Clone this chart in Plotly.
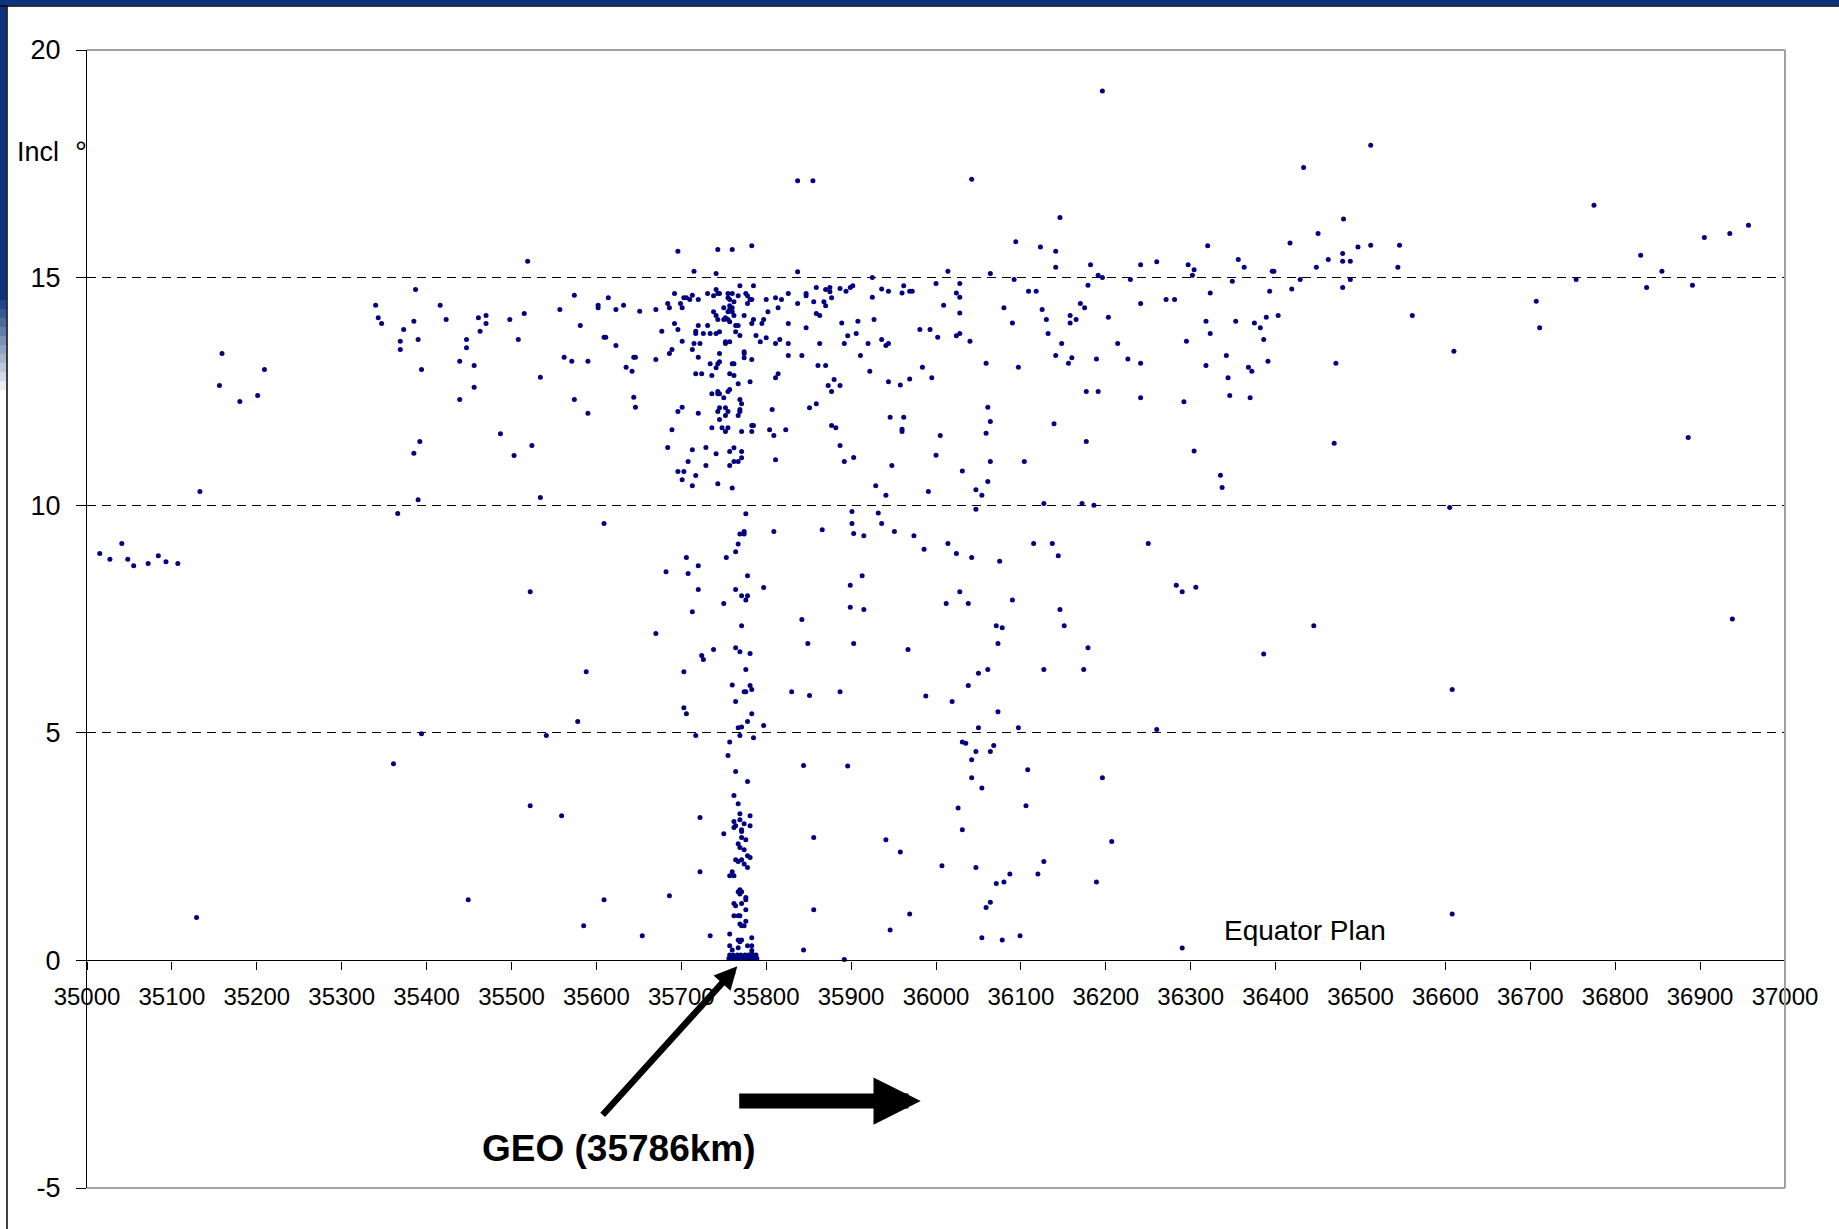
import plotly.graph_objects as go

# Apogee/Perigee (km) and inclination (deg), by region
west = [(35696, 15.58), (35519, 15.36), (35715, 15.14), (35387, 14.74), (35340, 14.39), (35416, 14.39),
        (35574, 14.61), (35614, 14.56), (35602, 14.39), (35602, 14.34), (35632, 14.39), (35623, 14.30),
        (35557, 14.30), (35515, 14.21), (35651, 14.26), (35670, 14.30), (35692, 14.65), (35684, 14.43),
        (35686, 14.34), (35699, 14.43), (35701, 14.34), (35703, 14.56), (35706, 14.56), (35710, 14.52),
        (35713, 14.61), (35720, 14.52), (35343, 14.12), (35347, 13.99), (35423, 14.08), (35461, 14.12),
        (35470, 14.17), (35470, 13.99), (35498, 14.08), (35385, 14.04), (35373, 13.86), (35463, 13.82),
        (35369, 13.60), (35369, 13.42), (35390, 13.64), (35447, 13.64), (35447, 13.46), (35508, 13.64),
        (35581, 13.95), (35609, 13.69), (35611, 13.69), (35623, 13.51), (35692, 13.99), (35696, 13.86),
        (35677, 13.82), (35717, 13.82), (35717, 13.77), (35720, 13.95), (35726, 13.77), (35715, 13.55),
        (35722, 13.55), (35701, 13.60), (35689, 13.42), (35686, 13.33), (35713, 13.42), (35720, 13.25),
        (35562, 13.25), (35571, 13.16), (35590, 13.16), (35644, 13.25), (35646, 13.25), (35670, 13.20),
        (35439, 13.16), (35456, 13.07), (35394, 12.98), (35635, 13.03), (35642, 12.94), (35717, 12.89),
        (35724, 12.89), (35534, 12.81), (35456, 12.59), (35439, 12.32), (35574, 12.32), (35644, 12.37),
        (35646, 12.15), (35590, 12.02), (35696, 12.06), (35701, 12.15), (35720, 12.02), (35689, 11.66),
        (35487, 11.57), (35503, 11.09), (35524, 11.31), (35392, 11.40), (35385, 11.14), (35684, 11.27),
        (35713, 11.22), (35729, 11.27), (35708, 10.96), (35729, 10.87), (35696, 10.74), (35703, 10.74),
        (35701, 10.56), (35717, 10.65), (35713, 10.43), (35390, 10.12), (35534, 10.17), (35159, 13.33),
        (35156, 12.63), (35180, 12.28), (35201, 12.41), (35209, 12.98), (35133, 10.30)]

west_low = [(35015, 8.94), (35027, 8.81), (35041, 9.16), (35048, 8.81), (35055, 8.67), (35072, 8.72),
            (35084, 8.89), (35093, 8.76), (35107, 8.72), (35366, 9.82), (35609, 9.60), (35522, 8.10),
            (35706, 8.85), (35720, 8.67), (35682, 8.54), (35708, 8.50), (35720, 8.15), (35713, 7.66),
            (35670, 7.18), (35724, 6.70), (35726, 6.61), (35588, 6.34), (35703, 6.34), (35703, 5.55),
            (35706, 5.42), (35578, 5.25), (35394, 4.98), (35541, 4.94), (35717, 4.94), (35361, 4.32),
            (35522, 3.40), (35559, 3.18), (35722, 3.14), (35722, 1.95), (35686, 1.42), (35609, 1.33),
            (35449, 1.33), (35129, 0.94), (35585, 0.76), (35654, 0.54)]

geo_high = [(35743, 15.62), (35760, 15.62), (35783, 15.70), (35741, 15.09), (35837, 15.13), (35769, 14.82),
            (35785, 14.82), (35731, 14.65), (35741, 14.74), (35743, 14.65), (35745, 14.65), (35755, 14.65),
            (35760, 14.65), (35738, 14.60), (35776, 14.65), (35778, 14.60), (35755, 14.56), (35757, 14.52),
            (35762, 14.47), (35781, 14.52), (35783, 14.52), (35767, 14.60), (35800, 14.52), (35811, 14.56),
            (35818, 14.52), (35826, 14.65), (35847, 14.65), (35847, 14.60), (35859, 14.78), (35870, 14.74),
            (35875, 14.78), (35875, 14.69), (35877, 14.56), (35837, 14.43), (35856, 14.47), (35868, 14.47),
            (35870, 14.38), (35757, 14.38), (35778, 14.43), (35750, 14.34), (35760, 14.34), (35738, 14.25),
            (35741, 14.17), (35755, 14.25), (35757, 14.30), (35760, 14.25), (35743, 14.08), (35750, 14.08),
            (35752, 14.12), (35755, 14.08), (35757, 14.03), (35762, 14.17), (35774, 14.17), (35785, 14.08),
            (35797, 14.08), (35802, 14.25), (35814, 14.34), (35859, 14.21), (35863, 14.17), (35783, 13.99),
            (35795, 13.99), (35826, 13.99), (35847, 13.90), (35764, 13.95), (35767, 13.95), (35731, 13.95),
            (35734, 13.77), (35741, 13.77), (35745, 13.81), (35764, 13.81), (35769, 13.73), (35788, 13.73),
            (35800, 13.68), (35816, 13.64), (35793, 13.59), (35811, 13.55), (35826, 13.55), (35863, 13.55),
            (35752, 13.59), (35752, 13.55), (35757, 13.59), (35745, 13.33), (35774, 13.37), (35774, 13.33),
            (35774, 13.24), (35783, 13.20), (35826, 13.29), (35842, 13.29), (35734, 13.11), (35743, 13.11),
            (35745, 13.15), (35741, 13.02), (35760, 13.11), (35762, 13.11), (35861, 13.07), (35870, 13.07),
            (35736, 12.85), (35757, 12.89), (35762, 12.85), (35767, 12.67), (35781, 12.71), (35811, 12.80),
            (35814, 12.89), (35859, 12.23), (35851, 12.14), (35873, 12.63), (35880, 12.76), (35877, 12.50),
            (35736, 12.45), (35743, 12.50), (35743, 12.45), (35745, 12.45), (35755, 12.50), (35757, 12.54),
            (35750, 12.36), (35769, 12.32), (35771, 12.23), (35745, 12.14), (35743, 12.06), (35752, 12.14),
            (35755, 12.06), (35752, 11.97), (35745, 11.88), (35767, 11.97), (35769, 12.10), (35769, 12.06),
            (35807, 12.10), (35736, 11.70), (35748, 11.70), (35755, 11.70), (35752, 11.62), (35771, 11.62),
            (35783, 11.75), (35785, 11.75), (35783, 11.62), (35804, 11.66), (35809, 11.53), (35823, 11.66),
            (35877, 11.75), (35882, 11.70), (35741, 11.13), (35757, 11.18), (35762, 11.26), (35771, 11.18),
            (35771, 11.04), (35767, 10.96), (35762, 10.96), (35757, 10.87), (35811, 11.00), (35743, 10.47),
            (35760, 10.38), (35776, 9.81), (35769, 9.37), (35774, 9.42), (35774, 9.37), (35767, 9.15),
            (35809, 9.42), (35866, 9.46), (35837, 17.13), (35855, 17.13)]

geo_low = [(35753, 8.85), (35764, 8.98), (35778, 8.45), (35797, 8.19), (35764, 8.15), (35771, 8.01),
           (35778, 8.01), (35776, 7.92), (35750, 7.84), (35842, 7.49), (35771, 7.35), (35849, 6.96),
           (35738, 6.83), (35764, 6.87), (35769, 6.78), (35781, 6.74), (35776, 6.39), (35760, 6.05),
           (35781, 6.04), (35774, 5.90), (35776, 5.90), (35783, 5.95), (35830, 5.90), (35851, 5.82),
           (35764, 5.69), (35783, 5.42), (35778, 5.25), (35767, 5.11), (35771, 5.13), (35797, 5.16),
           (35769, 4.94), (35785, 4.89), (35757, 4.80), (35755, 4.50), (35844, 4.28), (35764, 4.15),
           (35778, 3.93), (35762, 3.62), (35767, 3.44), (35769, 3.22), (35781, 3.18), (35762, 3.05),
           (35769, 3.09), (35762, 2.92), (35764, 2.96), (35774, 3.00), (35781, 2.96), (35771, 2.87),
           (35771, 2.83), (35750, 2.78), (35776, 2.65), (35771, 2.70), (35856, 2.70), (35767, 2.56),
           (35769, 2.48), (35774, 2.43), (35764, 2.21), (35767, 2.17), (35771, 2.21), (35774, 2.12),
           (35778, 2.30), (35781, 2.26), (35778, 2.04), (35757, 1.86), (35760, 1.95), (35762, 1.86),
           (35769, 1.55), (35767, 1.51), (35771, 1.51), (35769, 1.46), (35776, 1.38), (35776, 1.33),
           (35771, 1.25), (35762, 1.25), (35764, 1.20), (35776, 1.11), (35762, 0.98), (35767, 0.98),
           (35769, 0.98), (35776, 0.86), (35769, 0.80), (35771, 0.76), (35774, 0.76), (35856, 1.11),
           (35734, 0.54), (35757, 0.58), (35767, 0.45), (35769, 0.41), (35771, 0.45), (35783, 0.50),
           (35757, 0.32), (35767, 0.28), (35760, 0.23), (35778, 0.32), (35783, 0.32), (35783, 0.22),
           (35783, 0.15), (35844, 0.23)]

# the packed GEO band sitting on the equator plane
geo_band = [(35756, 0.04), (35759, 0.04), (35762, 0.04), (35765, 0.04), (35768, 0.04), (35771, 0.04),
            (35774, 0.04), (35777, 0.04), (35780, 0.04), (35783, 0.04), (35786, 0.04), (35789, 0.04),
            (35757, 0.12), (35761, 0.12), (35766, 0.12), (35770, 0.12), (35775, 0.12), (35779, 0.12),
            (35784, 0.12), (35788, 0.12)]

east = [(36196, 19.10), (36042, 17.16), (36433, 17.42), (36146, 16.32), (36094, 15.79), (36123, 15.67),
        (36141, 15.58), (36141, 15.23), (36320, 15.70), (36450, 15.97), (36417, 15.76), (36462, 15.40),
        (36260, 15.35), (36241, 15.28), (36182, 15.28), (36297, 15.28), (36304, 15.17), (36302, 15.05),
        (36356, 15.40), (36363, 15.23), (36396, 15.14), (36398, 15.14), (36448, 15.23), (36014, 15.14),
        (36064, 15.09), (36191, 15.05), (36196, 15.00), (36229, 14.96), (36349, 14.92), (36429, 14.96),
        (36092, 14.96), (35925, 15.00), (35887, 14.76), (35894, 14.70), (35899, 14.78), (35902, 14.82),
        (35925, 14.57), (35936, 14.75), (35944, 14.70), (35960, 14.66), (35962, 14.82), (35969, 14.70),
        (35972, 14.70), (36000, 14.87), (36024, 14.66), (36028, 14.87), (36028, 14.57), (36109, 14.70),
        (36118, 14.70), (36179, 14.83), (36271, 14.52), (36281, 14.52), (36323, 14.66), (36393, 14.70),
        (36419, 14.75), (36009, 14.39), (36028, 14.22), (36080, 14.34), (36125, 14.30), (36170, 14.43),
        (36175, 14.34), (36241, 14.43), (36158, 14.17), (36158, 14.00), (36165, 14.08), (36130, 14.08),
        (36203, 14.13), (36403, 14.17), (36389, 14.13), (36318, 14.04), (36353, 14.04), (36375, 14.00),
        (36382, 13.90), (35908, 14.04), (35927, 14.08), (35889, 14.00), (36090, 14.00), (35981, 13.86),
        (35993, 13.86), (35906, 13.77), (35896, 13.72), (36024, 13.72), (36028, 13.77), (36132, 13.77),
        (36323, 13.77), (36002, 13.69), (35892, 13.55), (35920, 13.55), (35936, 13.64), (35941, 13.51),
        (35944, 13.55), (36040, 13.60), (36148, 13.55), (36214, 13.55), (36295, 13.60), (36386, 13.64),
        (35911, 13.29), (36141, 13.29), (36160, 13.24), (36156, 13.12), (36189, 13.21), (36226, 13.21),
        (36241, 13.12), (36342, 13.29), (36391, 13.16), (36471, 13.12), (36059, 13.12), (36318, 13.07),
        (36368, 13.03), (36372, 12.94), (35922, 12.94), (35984, 13.03), (36097, 13.03), (35995, 12.80),
        (35969, 12.77), (35944, 12.71), (35958, 12.64), (35887, 12.63), (36344, 12.80), (36177, 12.50),
        (36191, 12.50), (36346, 12.41), (36370, 12.36), (36241, 12.36), (36292, 12.27), (36061, 12.15),
        (35946, 11.93), (35962, 11.93), (36064, 11.84), (36139, 11.79), (35960, 11.67), (35960, 11.62),
        (36059, 11.58), (36005, 11.53), (35887, 11.31), (36177, 11.40), (36469, 11.36), (36304, 11.19),
        (36000, 11.10), (35892, 10.96), (35903, 11.05), (36064, 10.96), (36104, 10.96), (35948, 10.87),
        (36031, 10.75), (36335, 10.66), (36337, 10.39), (35929, 10.43), (36061, 10.52), (35991, 10.30),
        (35941, 10.22), (36047, 10.34), (36054, 10.22), (36127, 10.04), (36172, 10.04), (36186, 10.00),
        (36047, 9.91), (35901, 9.86), (35932, 9.83), (35901, 9.60), (35936, 9.60), (35903, 9.38),
        (35915, 9.33), (35951, 9.42), (35974, 9.33), (35986, 9.03), (36014, 9.16), (36024, 8.94),
        (36042, 8.85), (36075, 8.77), (36115, 9.16), (36137, 9.16), (36144, 8.89), (36250, 9.16),
        (35913, 8.45), (35899, 8.24), (35899, 7.76), (35915, 7.71), (36012, 7.84), (36028, 8.10),
        (36038, 7.84), (36090, 7.92), (36146, 7.71), (36151, 7.35), (36071, 7.35), (36078, 7.31),
        (36073, 6.96), (36283, 8.24), (36290, 8.10), (36306, 8.20), (36445, 7.35), (35903, 6.96),
        (35967, 6.83), (36179, 6.87), (36386, 6.73), (36061, 6.39), (36050, 6.31), (36127, 6.39),
        (36174, 6.39), (36038, 6.04), (35887, 5.90), (35988, 5.81), (36019, 5.69), (36073, 5.46),
        (36050, 5.11), (36097, 5.11), (36260, 5.07), (36031, 4.80), (36035, 4.77), (36068, 4.72),
        (36064, 4.59), (36047, 4.59), (36042, 4.41), (35896, 4.27), (36108, 4.19), (36042, 4.01),
        (36054, 3.79), (36196, 4.01), (36106, 3.40), (36026, 3.35), (36031, 2.87), (35941, 2.65),
        (35958, 2.38), (36007, 2.08), (36047, 2.04), (36087, 1.90), (36080, 1.72), (36071, 1.69),
        (36120, 1.90), (36127, 2.17), (36189, 1.72), (36207, 2.61), (36064, 1.28), (36059, 1.16),
        (35969, 1.02), (35946, 0.67), (36054, 0.50), (36078, 0.45), (36099, 0.54), (36290, 0.27),
        (35892, 0.02)]

far_east = [(36512, 17.91), (36480, 16.29), (36479, 15.53), (36479, 15.36), (36488, 15.36), (36497, 15.67),
            (36512, 15.71), (36546, 15.71), (36544, 15.23), (36488, 14.96), (36479, 14.78), (36561, 14.17),
            (36610, 13.38), (36707, 14.48), (36711, 13.90), (36754, 14.96), (36775, 16.59), (36830, 15.49),
            (36837, 14.78), (36855, 15.14), (36886, 11.49), (36891, 14.83), (36905, 15.88), (36935, 15.97),
            (36957, 16.15), (36605, 9.95), (36608, 5.95), (36938, 7.50), (36608, 1.02)]

x_ticks = list(range(35000, 37001, 100))
y_ticks = [-5, 0, 5, 10, 15, 20]

all_pts = west + west_low + geo_high + geo_low + geo_band + east + far_east
apogee = [p[0] for p in all_pts]
incl = [p[1] for p in all_pts]

FONT = "Liberation Sans, Arial, sans-serif"
W, H = 1839, 1229
L, R, T, B = 87, 54, 50, 41


def px(x):
    return (x - L) / (W - L - R)


def py(y):
    return (H - B - y) / (H - T - B)


fig = go.Figure()
fig.add_trace(go.Scatter(x=apogee, y=incl, mode='markers',
                         marker=dict(size=5, color='#000080', line=dict(width=0)),
                         showlegend=False, hoverinfo='x+y'))

fig.update_layout(
    width=W, height=H, autosize=False,
    margin=dict(l=L, r=R, t=T, b=B),
    paper_bgcolor='white', plot_bgcolor='white',
    font=dict(family=FONT, color='black'),
    xaxis=dict(range=[35000, 37000], tickvals=x_ticks, ticktext=[str(v) for v in x_ticks],
               anchor='free', position=0.2, side='bottom',
               showline=True, linecolor='black', linewidth=1.3,
               ticks='outside', ticklen=8, tickwidth=1.3, tickcolor='black',
               ticklabelstandoff=7, tickfont=dict(size=24, family=FONT, color='black'),
               showgrid=False, zeroline=False),
    yaxis=dict(range=[-5, 20], tickvals=y_ticks, ticktext=[str(v) for v in y_ticks],
               showline=True, linecolor='black', linewidth=1.3,
               ticks='outside', ticklen=10, tickwidth=1.3, tickcolor='black',
               ticklabelstandoff=10, tickfont=dict(size=27, family=FONT, color='black'),
               showgrid=True, gridcolor='black', gridwidth=1, griddash='9px,6px',
               zeroline=False),
)

shapes = []
# grey frame on top, right and bottom
frame = dict(type='line', xref='paper', yref='paper', line=dict(color='#a0a0a0', width=2), layer='above')
shapes.append(dict(frame, x0=0, x1=1, y0=1, y1=1))
shapes.append(dict(frame, x0=1, x1=1, y0=0, y1=1))
shapes.append(dict(frame, x0=0, x1=1, y0=0, y1=0))

# slide border: dark blue band at the top and upper left
blue = '#0b347c'
shapes.append(dict(type='rect', xref='paper', yref='paper', x0=px(0), x1=px(W), y0=py(0), y1=py(5.5),
                   fillcolor=blue, line=dict(width=0)))
shapes.append(dict(type='rect', xref='paper', yref='paper', x0=px(0), x1=px(6.5), y0=py(0), y1=py(300),
                   fillcolor=blue, line=dict(width=0)))
steps = 10
for i in range(steps):
    t = (i + 1) / (steps + 1)
    c = tuple(int(a + (255 - a) * t) for a in (11, 52, 124))
    shapes.append(dict(type='rect', xref='paper', yref='paper', x0=px(0), x1=px(6.5),
                       y0=py(300 + i * 9), y1=py(300 + (i + 1) * 9),
                       fillcolor='rgb(%d,%d,%d)' % c, line=dict(width=0)))
shapes.append(dict(type='line', xref='paper', yref='paper', x0=px(0), x1=px(W), y0=py(6), y1=py(6),
                   line=dict(color='black', width=1.5)))
shapes.append(dict(type='line', xref='paper', yref='paper', x0=px(7), x1=px(7), y0=py(6), y1=py(H),
                   line=dict(color='black', width=1.5)))
fig.update_layout(shapes=shapes)

ann = []
ann.append(dict(text='Incl', xref='paper', yref='y', x=px(15), y=17.76, xanchor='left', yanchor='middle',
                showarrow=False, font=dict(size=27, family=FONT, color='black')))
ann.append(dict(text='°', xref='paper', yref='y', x=px(81), y=17.76, xanchor='center', yanchor='middle',
                showarrow=False, font=dict(size=30, family=FONT, color='black')))
ann.append(dict(text='Apogee/Perigee', xref='x', yref='y', x=37002, y=-1.6, xanchor='right',
                yanchor='middle', showarrow=False, font=dict(size=26, family=FONT, color='black')))
ann.append(dict(text='Equator Plan', xref='x', yref='y', x=36435, y=0.66, xanchor='center',
                yanchor='middle', showarrow=False, font=dict(size=28, family=FONT, color='black')))
ann.append(dict(text='<b>GEO (35786km)</b>', xref='x', yref='y', x=35627, y=-4.13, xanchor='center',
                yanchor='middle', showarrow=False, font=dict(size=37, family=FONT, color='black')))
# arrow pointing at the GEO column
ann.append(dict(text='', xref='x', yref='y', x=35766, y=-0.13, ax=-136, ay=150, showarrow=True,
                arrowhead=2, arrowsize=0.7, arrowwidth=6.5, arrowcolor='black', standoff=0))
# block arrow pointing to higher altitudes
ann.append(dict(text='', xref='x', yref='y', x=35982, y=-3.09, ax=-183, ay=0, showarrow=True,
                arrowhead=2, arrowsize=0.63, arrowwidth=15, arrowcolor='black', standoff=0))
fig.update_layout(annotations=ann)

# the page body keeps its default 8px margin otherwise
fig.write_html("out.html", config={'displayModeBar': False},
               post_script="document.body.style.margin='0';")
